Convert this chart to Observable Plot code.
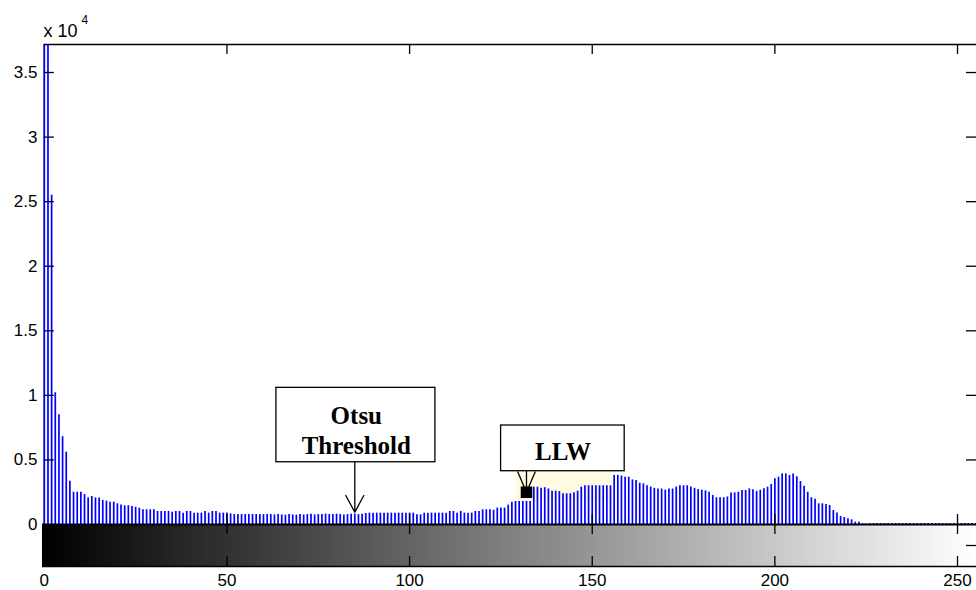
<!DOCTYPE html>
<html><head><meta charset="utf-8">
<script src="https://cdn.jsdelivr.net/npm/d3@7"></script>
<script src="https://cdn.jsdelivr.net/npm/@observablehq/plot@0.6"></script>
<style>html,body{margin:0;padding:0;background:#fff;overflow:hidden}#chart svg{display:block}</style>
</head><body><div id="chart"></div>
<script>
// ---- data ----
const bins = d3.range(256);
const counts = [
  37200, 37200, 25500, 10200, 8500, 6800, 5600, 3350, 2500, 2500, 2500, 2320, 2060, 2170, 2060, 2060,
  1860, 1810, 1730, 1730, 1600, 1520, 1450, 1450, 1390, 1340, 1260, 1140, 1140, 1140, 1140, 1010,
  1010, 1010, 1010, 950, 1010, 1010, 880, 1010, 1010, 880, 880, 880, 1010, 880, 1010, 1010,
  880, 880, 900, 820, 770, 770, 770, 770, 770, 770, 770, 770, 770, 770, 770, 740,
  770, 740, 720, 770, 740, 720, 770, 740, 770, 800, 740, 770, 770, 800, 770, 770,
  800, 770, 740, 770, 800, 800, 770, 800, 850, 880, 880, 880, 880, 880, 880, 880,
  880, 880, 880, 880, 880, 880, 750, 750, 880, 880, 880, 880, 880, 880, 880, 1010,
  1010, 880, 1010, 880, 880, 880, 1010, 1010, 1140, 1140, 1140, 1100, 1270, 1270, 1270, 1500,
  1730, 1780, 1780, 1780, 1780, 1780, 2890, 2890, 2800, 2850, 2750, 2580, 2580, 2550, 2380, 2380,
  2380, 2450, 2580, 2890, 3000, 3000, 3000, 3000, 3000, 3000, 3000, 3000, 3800, 3800, 3750, 3660,
  3660, 3450, 3400, 3200, 3150, 3000, 2900, 2800, 2750, 2750, 2660, 2750, 2750, 2900, 3000, 3000,
  3000, 2900, 2800, 2700, 2650, 2600, 2500, 2250, 2070, 2070, 2070, 2130, 2430, 2450, 2500, 2630,
  2630, 2760, 2700, 2550, 2650, 2760, 2890, 3100, 3540, 3660, 3920, 3920, 3800, 3920, 3700, 3330,
  2970, 2500, 2070, 1950, 1600, 1600, 1550, 1470, 1080, 900, 620, 540, 440, 360, 180, 180,
  60, 40, 80, 80, 80, 80, 80, 80, 80, 80, 80, 80, 80, 80, 80, 80,
  80, 80, 80, 80, 80, 80, 80, 80, 80, 80, 80, 80, 80, 80, 80, 80
];
const xTicks = [0, 50, 100, 150, 200, 250];
const yTicks = [0, 5000, 10000, 15000, 20000, 25000, 30000, 35000];
const yTickLabels = ["0", "0.5", "1", "1.5", "2", "2.5", "3", "3.5"];
const exponentLabel = ["x 10", "4"];
const annotationLabels = ["Otsu\nThreshold", "LLW"];
const annotationBins = [85, 132];
const annotationCounts = [950, 2500];

// ---- layout ----
const W = 976, H = 590, mL = 42, mR = 0, mT = 44, mB = 24;
const X0 = -0.5, X1 = 255.2, Y0 = -3252, Y1 = 37170;
const kx = (W - mL - mR) / (X1 - X0);
const ky = (H - mT - mB) / (Y1 - Y0);
const px = s => s / kx;           // screen px -> bins
const py = s => s / ky;           // screen px -> counts
const X = (b, s) => b + px(s);
const Y = (c, s) => c - py(s);    // s: screen offset, positive downward
const TX = px(10), TY = py(10);

const ann = annotationLabels.map((label, i) => ({label, bin: annotationBins[i], count: annotationCounts[i]}));
const otsu = ann[0], llw = ann[1];
const innerX = xTicks.filter(v => v > 0);
const innerY = yTicks.filter(v => v > 0);
const sw = 1.3;
const serif = "'Liberation Serif', 'Times New Roman', serif";

const chart = Plot.plot({
  width: W, height: H,
  marginLeft: mL, marginRight: mR, marginTop: mT, marginBottom: mB,
  x: {domain: [X0, X1]},
  y: {domain: [Y0, Y1]},
  style: {background: "white", fontFamily: "'Liberation Sans', Arial, sans-serif", fontSize: "17px", color: "black"},
  marks: [
    // grayscale colour bar
    Plot.rect(bins, {x1: d => d - 0.5, x2: d => d + 0.5, y1: Y0, y2: 0,
      fill: d => `rgb(${d},${d},${d})`, clip: true, shapeRendering: "crispEdges"}),
    // pale highlight behind the LLW datatip
    Plot.rect([llw], {x1: d => X(d.bin, -10.7), x2: d => X(d.bin, 86.3), y1: d => Y(d.count, 10), y2: d => Y(d.count, -21), fill: "#fffbe2"}),
    // left spine
    Plot.ruleX([0], {y1: 0, y2: Y1, stroke: "black", strokeWidth: sw}),
    // histogram stems
    Plot.ruleX(bins, {x: d => d, y1: 0, y2: d => Math.min(counts[d], Y1), stroke: "#0000ff", strokeWidth: 1.7}),
    // frame lines
    Plot.ruleY([Y1], {x1: 0, x2: X1, stroke: "black", strokeWidth: 1.5}),
    Plot.ruleY([0], {x1: X0, x2: X1, stroke: "black", strokeWidth: 2}),
    Plot.ruleY([Y0], {x1: X0, x2: X1, stroke: "black", strokeWidth: 1.5}),
    // ticks (inward)
    Plot.ruleY(innerY, {x1: 0, x2: TX, stroke: "black", strokeWidth: sw}),
    Plot.ruleY(innerY, {x1: X1 - TX, x2: X1, stroke: "black", strokeWidth: sw}),
    Plot.ruleX(innerX, {y1: Y1 - TY, y2: Y1, stroke: "black", strokeWidth: sw}),
    Plot.ruleX(innerX, {y1: 0, y2: TY, stroke: "black", strokeWidth: sw}),
    Plot.ruleX(innerX, {y1: -TY, y2: 0, stroke: "black", strokeWidth: sw}),
    Plot.ruleX(innerX, {y1: Y0, y2: Y0 + TY, stroke: "black", strokeWidth: sw}),
    Plot.ruleY([Y0 / 2], {x1: X1 - TX, x2: X1, stroke: "black", strokeWidth: sw}),
    // axes labels
    Plot.axisX(xTicks, {anchor: "bottom", tickSize: 0, tickPadding: 7, label: null, fontSize: 17}),
    Plot.axisY(yTicks, {anchor: "left", tickSize: 0, tickPadding: 5, label: null, fontSize: 17,
      tickFormat: d => yTickLabels[yTicks.indexOf(d)]}),
    Plot.text([exponentLabel[0]], {text: d => d, frameAnchor: "top-left", dx: 1, dy: -13, textAnchor: "start", lineAnchor: "middle", fontSize: 18}),
    Plot.text([exponentLabel[1]], {text: d => d, frameAnchor: "top-left", dx: 39, dy: -24, textAnchor: "start", lineAnchor: "middle", fontSize: 12}),
    // annotation arrows (drawn under the boxes)
    Plot.arrow([otsu], {x1: d => d.bin, x2: d => d.bin, y1: d => Y(d.count, -110), y2: d => d.count,
      stroke: "black", strokeWidth: sw, headAngle: 56.6, headLength: 18.97 * 1.5 / sw}),
    Plot.arrow([llw], {x1: d => d.bin, x2: d => d.bin, y1: d => Y(d.count, -66), y2: d => d.count,
      stroke: "black", strokeWidth: sw, headAngle: 46.4, headLength: 22 * 1.5 / sw}),
    // annotation boxes
    Plot.rect([otsu], {x1: d => X(d.bin, -78.4), x2: d => X(d.bin, 80.6), y1: d => Y(d.count, -50), y2: d => Y(d.count, -124.4),
      fill: "white", stroke: "black", strokeWidth: sw}),
    Plot.rect([llw], {x1: d => X(d.bin, -25.4), x2: d => X(d.bin, 98.2), y1: d => Y(d.count, -21), y2: d => Y(d.count, -66.7),
      fill: "white", stroke: "black", strokeWidth: sw}),
    Plot.text([otsu], {x: d => X(d.bin, 1.5), y: d => Y(d.count, -83), text: d => d.label,
      fontFamily: serif, fontWeight: "bold", fontSize: 25, lineHeight: 1.2, lineAnchor: "middle", fill: "black"}),
    Plot.text([llw], {x: d => X(d.bin, 36.5), y: d => Y(d.count, -40), text: d => d.label,
      fontFamily: serif, fontWeight: "bold", fontSize: 25, lineAnchor: "middle", fill: "black"}),
    Plot.dot([llw], {x: "bin", y: "count", symbol: "square", r: 6.5, fill: "black", stroke: null})
  ]
});
document.getElementById("chart").append(chart);
</script>
</body></html>
